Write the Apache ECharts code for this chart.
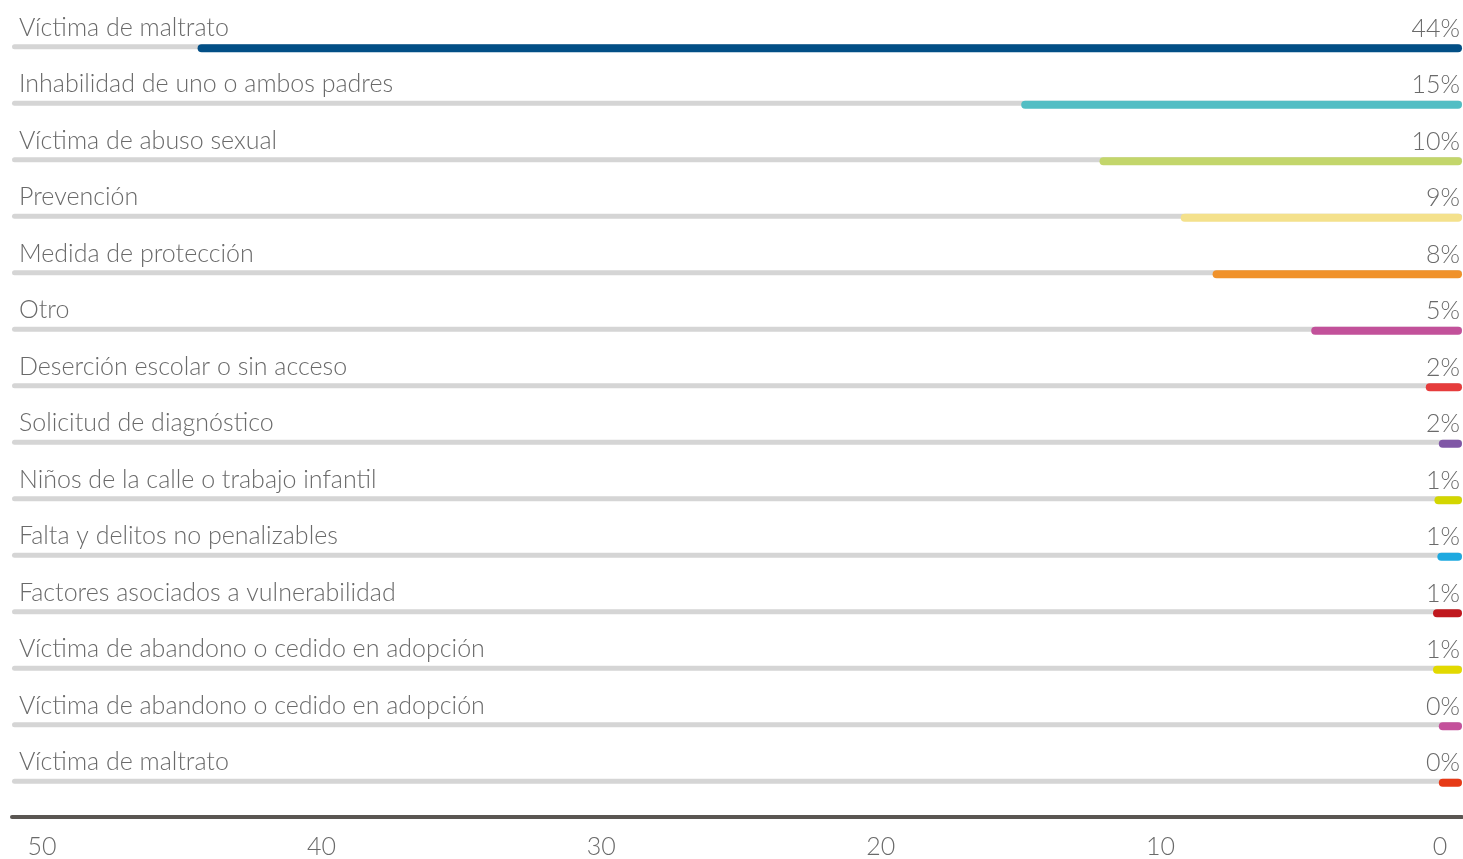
<!DOCTYPE html>
<html><head><meta charset="utf-8">
<script src="https://cdn.jsdelivr.net/npm/echarts@6/dist/echarts.min.js"></script>
<style>html,body{margin:0;padding:0;background:#fff}#c{width:1463px;height:859px}</style>
</head><body><div id="c"></div>
<script>
const categories = [
  'Víctima de maltrato',
  'Inhabilidad de uno o ambos padres',
  'Víctima de abuso sexual',
  'Prevención',
  'Medida de protección',
  'Otro',
  'Deserción escolar o sin acceso',
  'Solicitud de diagnóstico',
  'Niños de la calle o trabajo infantil',
  'Falta y delitos no penalizables',
  'Factores asociados a vulnerabilidad',
  'Víctima de abandono o cedido en adopción',
  'Víctima de abandono o cedido en adopción',
  'Víctima de maltrato'
];
// bar lengths
const barValues = [43.6, 15.2, 12.5, 9.7, 8.6, 5.2, 1.25, 0.8, 0.95, 0.85, 1.0, 1.0, 0.8, 0.8];
// percent labels as printed
const pctLabels = ['44%', '15%', '10%', '9%', '8%', '5%', '2%', '2%', '1%', '1%', '1%', '1%', '0%', '0%'];
const barColors = ['#024f86', '#52bec4', '#c3d66b', '#f4e18c', '#f0922b', '#c2519a', '#e63c3c', '#8057a6', '#d3d600', '#1ea9e0', '#c0181e', '#e2d900', '#c4519b', '#e63a17'];
const tickValues = [0, 10, 20, 30, 40, 50];
const axisMax = 50;

const FONT = 'Lato';
const TXT = '#6a6a6a';
const FS = 25;
const chart = echarts.init(document.getElementById('c'));
chart.setOption({
  animation: false,
  grid: [
    {left: 12, right: 1, top: 20, bottom: 48, containLabel: false},
    {left: 42, right: 23, top: 20, bottom: 48, containLabel: false}
  ],
  xAxis: [
    {gridIndex: 0, type: 'value', inverse: true, min: 0, max: axisMax, interval: 10,
     offset: 6,
     axisLine: {show: true, lineStyle: {color: '#5a5652', width: 4}},
     axisTick: {show: false}, axisLabel: {show: false}, splitLine: {show: false}},
    {gridIndex: 1, type: 'value', inverse: true, min: 0, max: axisMax, interval: 10,
     offset: 6,
     axisLine: {show: false}, axisTick: {show: false}, splitLine: {show: false},
     axisLabel: {show: true, margin: 23, color: TXT, fontFamily: FONT, fontWeight: 300, fontSize: FS,
       formatter: v => tickValues.includes(v) ? String(v) : ''}}
  ],
  yAxis: [
    {gridIndex: 0, type: 'category', inverse: true, data: categories, position: 'left',
     axisLine: {show: false}, axisTick: {show: false}, splitLine: {show: false},
     axisLabel: {inside: true, margin: 7, align: 'left', verticalAlign: 'bottom',
       padding: [0, 0, 8, 0], color: TXT, fontFamily: FONT, fontWeight: 300, fontSize: FS}},
    {gridIndex: 0, type: 'category', inverse: true, data: categories, position: 'right',
     axisLine: {show: false}, axisTick: {show: false}, splitLine: {show: false},
     axisLabel: {inside: true, margin: 2, align: 'right', verticalAlign: 'bottom',
       padding: [0, 0, 7, 0], color: TXT, fontFamily: FONT, fontWeight: 300, fontSize: FS,
       formatter: (v, i) => pctLabels[i]}},
    {gridIndex: 1, type: 'category', data: categories, show: false}
  ],
  series: [
    {type: 'bar', xAxisIndex: 0, yAxisIndex: 0, barWidth: 5, barGap: '-100%', silent: true,
     itemStyle: {color: '#d5d5d5', borderRadius: 2.5},
     data: categories.map(() => axisMax), z: 1},
    {type: 'bar', xAxisIndex: 0, yAxisIndex: 0, barWidth: 8, barGap: '-100%',
     data: barValues.map((v, i) => ({value: v, itemStyle: {color: barColors[i]}})),
     itemStyle: {borderRadius: 4}, z: 2},
    {type: 'scatter', xAxisIndex: 1, yAxisIndex: 2, data: [], silent: true}
  ]
});
</script></body></html>
